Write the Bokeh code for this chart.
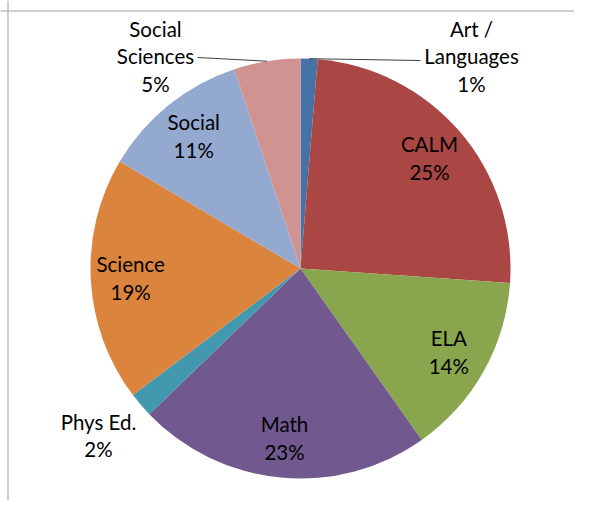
import math
from bokeh.plotting import figure
from bokeh.models import ColumnDataSource, Range1d, Span
from bokeh.core.properties import value
from bokeh.embed import file_html
from bokeh.resources import INLINE

# ---- data (clockwise from 12 o'clock) ----
subjects = ["Art /\nLanguages", "CALM", "ELA", "Math", "Phys Ed.", "Science", "Social", "Social\nSciences"]
shares = [1.3, 24.8, 14.1, 22.6, 1.9, 18.8, 11.4, 5.1]
colors = ["#4572A7", "#AA4643", "#89A54E", "#71588F", "#4198AF", "#DB843D", "#93A9CF", "#D19392"]
outside = [True, False, False, False, True, False, False, True]

# ---- layout ----
W, H = 574, 500
CX, CY = 300, 268          # pie centre in figure pixels (from left, from top)
R = 210
FONT = value("Lato")
FS = "20.5px"
LH = 1.16
inside_r = 0.81 * R
# outside label centres, pixel offsets from pie centre (x right, y up)
outside_pos = {0: (171, 212), 4: (-202, -167), 7: (-145, 212)}
# leader line end points (label side), offsets from pie centre
leader_end = {0: (120, 208), 7: (-103, 211)}

total = sum(shares)
starts, ends, mids = [], [], []
acc = 0.0
for s in shares:
    a0 = acc / total * 2 * math.pi
    acc += s
    a1 = acc / total * 2 * math.pi
    starts.append(math.pi / 2 - a0)
    ends.append(math.pi / 2 - a1)
    mids.append((a0 + a1) / 2)

p = figure(width=W, height=H, output_backend="svg", toolbar_location=None,
           x_range=Range1d(-CX, W - CX), y_range=Range1d(-(H - CY), CY),
           min_border=0, match_aspect=False)
p.axis.visible = False
p.grid.visible = False
p.outline_line_color = None
p.background_fill_color = "white"
p.border_fill_color = "white"

src = ColumnDataSource(dict(start=starts, end=ends, color=colors))
p.wedge(x=0, y=0, radius=R, start_angle="start", end_angle="end", direction="clock",
        fill_color="color", line_color=None, source=src)

lx, ly, lt = [], [], []
for i, (name, s) in enumerate(zip(subjects, shares)):
    label = f"{name}\n{round(s / total * 100)}%"
    if outside[i]:
        x, y = outside_pos[i]
    else:
        x = inside_r * math.sin(mids[i])
        y = inside_r * math.cos(mids[i])
    lx.append(x); ly.append(y); lt.append(label)

p.text(x=lx, y=ly, text=lt, text_align="center", text_baseline="middle",
       text_font=FONT, text_font_size=FS, text_color="#000000", text_line_height=LH)

xs, ys = [], []
for i, (ex, ey) in leader_end.items():
    sx = R * math.sin(mids[i]); sy = R * math.cos(mids[i])
    xs.append([sx, ex]); ys.append([sy, ey])
p.multi_line(xs=xs, ys=ys, line_color="#404040", line_width=1)

# chart-area frame (only top and left visible in the crop)
p.add_layout(Span(location=CY - 10.5, dimension="width", line_color="#a0a0a0", line_width=1))
p.add_layout(Span(location=-CX + 7.5, dimension="height", line_color="#a0a0a0", line_width=1))

open("out.html", "w").write(file_html(p, INLINE))
